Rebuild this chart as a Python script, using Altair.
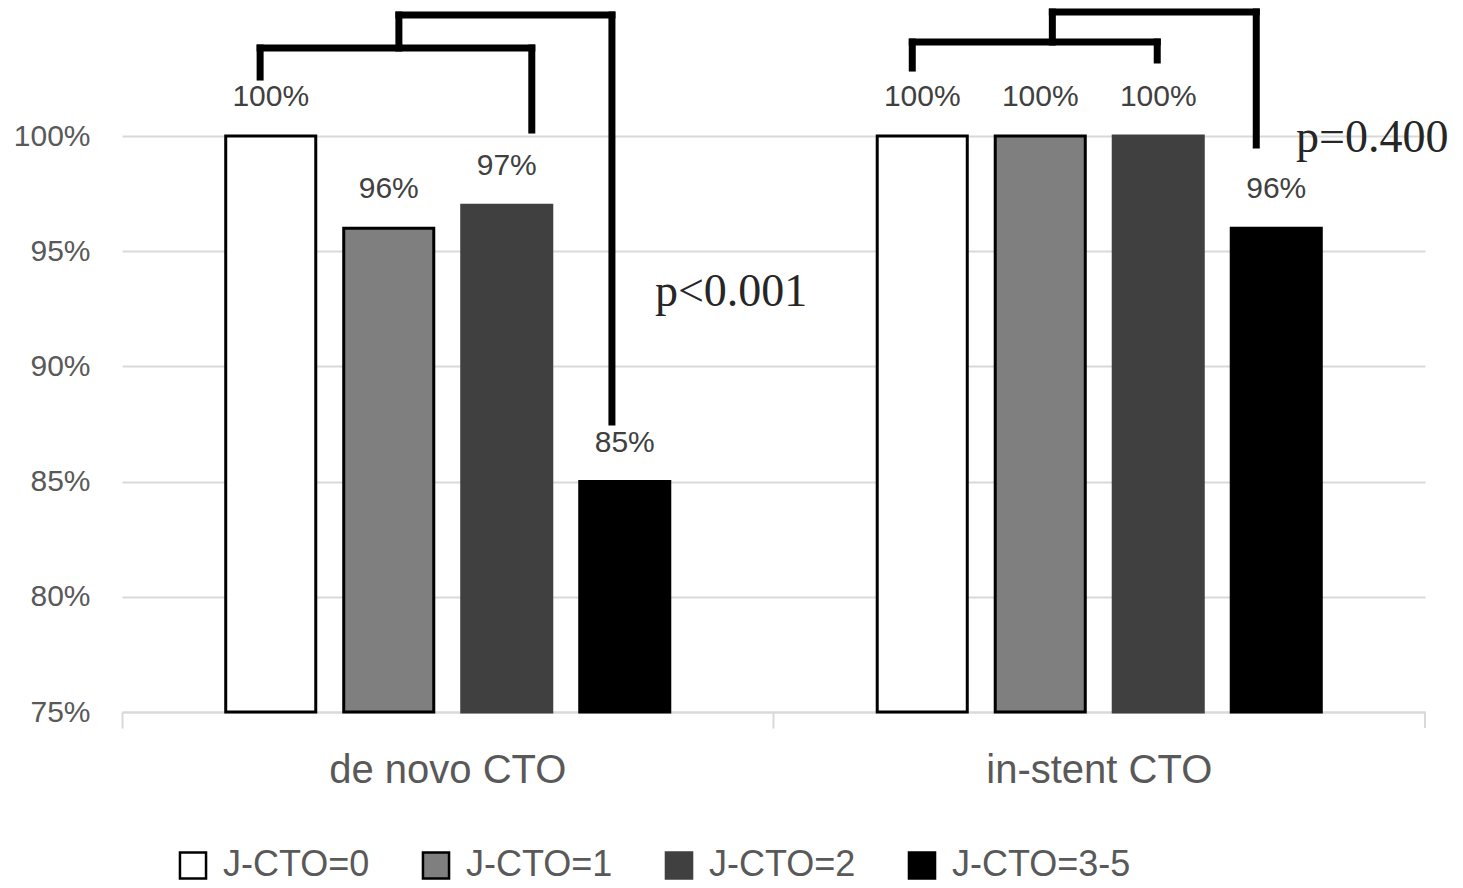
import altair as alt
import pandas as pd

groups = ["de novo CTO", "in-stent CTO"]
levels = ["J-CTO=0", "J-CTO=1", "J-CTO=2", "J-CTO=3-5"]
denovo = [100, 96, 97, 85]
instent = [100, 100, 100, 96]
fills = ["#ffffff", "#7f7f7f", "#404040", "#000000"]
strokes = ["#000000", "#000000", "#404040", "#000000"]
y_ticks = [75, 80, 85, 90, 95, 100]

# significance brackets (x in group units 0..2, y in percent)
seg_x = [0.212, 0.212, 0.629, 0.425, 0.425, 0.752,
         1.213, 1.213, 1.589, 1.428, 1.428, 1.741]
seg_x2 = [0.212, 0.629, 0.629, 0.425, 0.752, 0.752,
          1.213, 1.589, 1.589, 1.428, 1.741, 1.741]
seg_y = [102.56, 103.82, 100.26, 103.82, 105.25, 87.59,
         102.95, 104.08, 103.30, 104.08, 105.38, 99.61]
seg_y2 = [103.82, 103.82, 103.82, 105.25, 105.25, 105.25,
          104.08, 104.08, 104.08, 105.38, 105.38, 105.38]

p_text = ["p<0.001", "p=0.400"]
p_x = [0.818, 1.802]
p_y = [92.62, 99.31]

rows = []
for g, vals in zip(groups, [denovo, instent]):
    for lv, v in zip(levels, vals):
        rows.append({"group": g, "level": lv, "value": v, "label": f"{v}%"})
df = pd.DataFrame(rows)
seg_df = pd.DataFrame({"x": seg_x, "x2": seg_x2, "y": seg_y, "y2": seg_y2})
p_df = pd.DataFrame({"text": p_text, "x": p_x, "y": p_y})

Y_DOMAIN = [75, 105.47]
yscale = alt.Scale(domain=Y_DOMAIN, nice=False, zero=False)
yaxis = alt.Axis(values=y_ticks, labelExpr="datum.value + '%'",
                 labelFont="Liberation Sans", labelFontSize=30,
                 labelColor="#595959", labelPadding=32,
                 ticks=False, domain=False, grid=True,
                 gridColor="#d9d9d9", gridWidth=2, title=None)
xband = alt.Scale(paddingInner=0, paddingOuter=0)
xoff = alt.XOffset("level:N", sort=levels,
                   scale=alt.Scale(paddingInner=0.237, paddingOuter=0.879))
xq = alt.Scale(domain=[0, 2], nice=False, zero=False)

legend = alt.Legend(
    title=None, orient="none", legendX=53, legendY=837,
    direction="horizontal", columns=4, symbolType="square",
    symbolSize=680, symbolStrokeWidth=2.5, labelFont="Liberation Sans",
    labelFontSize=36, labelColor="#595959", labelOffset=12,
    columnPadding=47, padding=0, labelLimit=400,
)

base = alt.Chart(df)

bars = base.mark_bar(strokeWidth=3).encode(
    x=alt.X("group:N", sort=groups, scale=xband, title=None,
            axis=alt.Axis(bandPosition=0, labelAngle=0, labelLimit=500,
                          labelFont="Liberation Sans", labelFontSize=40,
                          labelColor="#595959", labelPadding=22,
                          tickSize=16, tickColor="#d9d9d9", tickWidth=2,
                          domainColor="#d9d9d9", domainWidth=2, grid=False)),
    xOffset=xoff,
    y=alt.Y("value:Q", scale=yscale, title=None, axis=yaxis),
    y2=alt.datum(75),
    fill=alt.Fill("level:N", sort=levels,
                  scale=alt.Scale(domain=levels, range=fills), legend=legend),
    stroke=alt.Stroke("level:N", sort=levels,
                      scale=alt.Scale(domain=levels, range=strokes), legend=legend),
)

labels = base.mark_text(dy=-39, baseline="middle", font="Liberation Sans",
                        fontSize=30, color="#404040").encode(
    x=alt.X("group:N", sort=groups, scale=xband, axis=None),
    xOffset=xoff,
    y=alt.Y("value:Q", scale=yscale, title=None, axis=yaxis),
    text="label:N",
)

brackets = alt.Chart(seg_df).mark_rule(strokeWidth=7, color="#000000",
                                       strokeCap="square").encode(
    x=alt.X("x:Q", scale=xq, axis=None),
    x2="x2:Q",
    y=alt.Y("y:Q", scale=yscale, title=None, axis=yaxis),
    y2="y2:Q",
)

ptext = alt.Chart(p_df).mark_text(align="left", baseline="alphabetic",
                                  font="Liberation Serif", fontSize=46,
                                  color="#262626").encode(
    x=alt.X("x:Q", scale=xq, axis=None),
    y=alt.Y("y:Q", scale=yscale, title=None, axis=yaxis),
    text="text:N",
)

end_tick = alt.Chart(pd.DataFrame({"a": [0]})).mark_rule(
    color="#d9d9d9", strokeWidth=2).encode(
    x=alt.value(1303), y=alt.value(702), y2=alt.value(718))

chart = alt.layer(bars, labels, brackets, ptext, end_tick).resolve_scale(
    x="independent"
).properties(
    width=1303, height=702,
    autosize=alt.AutoSizeParams(type="none"),
    padding={"left": 114, "top": 2, "right": 30, "bottom": 172},
).configure_view(stroke=None)

chart.save("out.html", embed_options={"renderer": "svg", "actions": False})
